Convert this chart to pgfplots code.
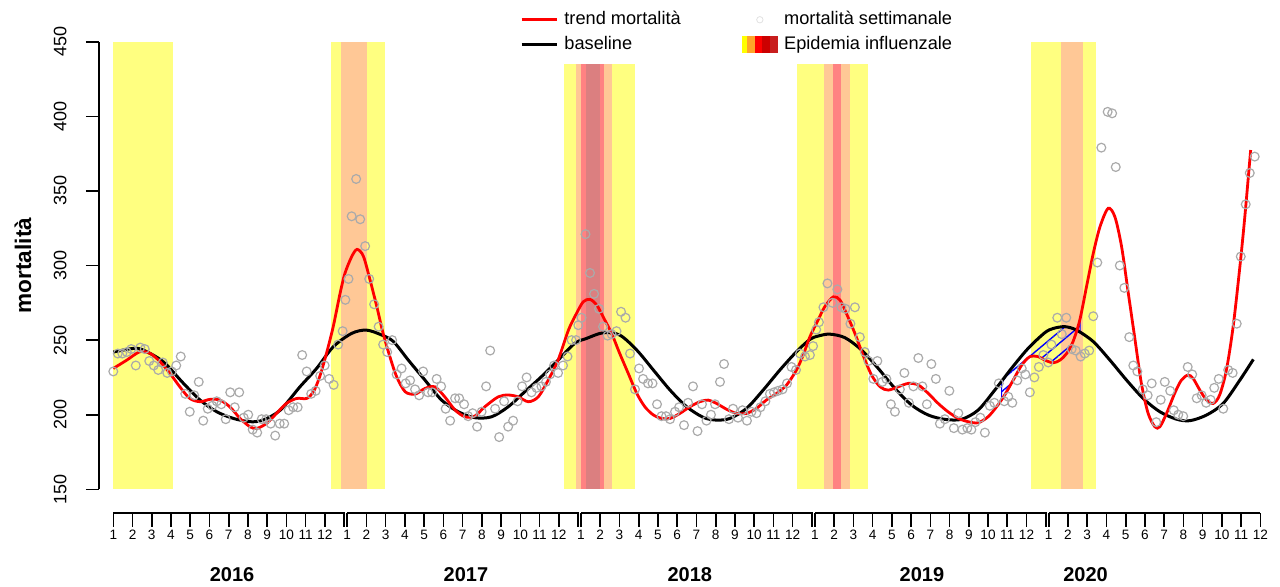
\documentclass[border=0pt]{standalone}
\usepackage{fontspec}
\setmainfont{Liberation Sans}
\usepackage{pgfplots}
\pgfplotsset{compat=1.18}
\usepackage{pgfplotstable}
\usetikzlibrary{patterns.meta}

\definecolor{yel}{RGB}{255,255,128}
\definecolor{peach}{RGB}{255,200,150}
\definecolor{pinkb}{RGB}{255,130,130}
\definecolor{dusky}{RGB}{219,127,128}
\definecolor{pts}{RGB}{170,170,170}
\definecolor{lg1}{RGB}{255,255,0}
\definecolor{lg2}{RGB}{255,165,40}
\definecolor{lg3}{RGB}{255,0,0}
\definecolor{lg4}{RGB}{204,0,0}
\definecolor{lg5}{RGB}{200,30,30}

% x = settimane dall'inizio del 2016, y = decessi
\pgfplotstableread{
w v
0 229
1 241
2 241
3 242
4 244
5 233
6 245
7 244
8 236
9 233
10 230
11 235
12 228
13 229
14 233
15 239
16 214
17 202
18 213
19 222
20 196
21 204
22 206
23 209
24 207
25 197
26 215
27 205
28 215
29 198
30 200
31 190
32 188
33 197
34 197
35 194
36 186
37 194
38 194
39 203
40 205
41 205
42 240
43 229
44 214
45 216
46 226
47 233
48 224
49 220
50 247
51 256
51.6 277
52.3 291
53.0 333
54.0 358
54.9 331
56.0 313
56.9 291
58.0 274
59.0 259
60.0 247
60.9 242
62.0 250
63.0 227
64.1 231
65.0 221
66.0 223
67.1 217
68.0 213
68.9 229
70.0 215
70.9 215
71.9 224
72.9 219
73.9 204
74.9 196
76.0 211
76.9 211
78.0 207
78.9 199
79.9 201
80.9 192
81.9 202
82.9 219
83.8 243
84.9 204
85.8 185
86.9 209
87.8 192
88.9 196
89.9 209
90.9 219
91.9 225
93.0 215
94.1 218
95.2 219
96.2 222
97.1 227
98.0 233
98.9 228
100.0 233
101.0 239
101.9 250
102.9 250
103.4 260
104.1 265
105.0 321
106.0 295
106.9 281
108.0 271
108.9 259
109.9 253
110.8 254
111.9 256
112.9 269
113.9 265
114.9 241
116.0 217
116.9 231
117.8 224
118.9 221
119.9 221
120.9 207
121.9 199
122.9 199
123.8 197
124.9 202
125.8 205
126.9 193
127.8 208
128.9 219
129.9 189
130.9 207
131.9 196
132.9 200
133.8 207
134.9 222
135.8 234
136.9 197
137.8 204
138.9 198
139.9 203
140.9 196
141.9 202
143.0 201
143.9 205
145.0 209
146.0 214
146.9 215
147.8 216
148.8 217
149.8 221
150.8 232
151.8 230
152.7 241
153.8 239
154.9 240
155.6 246
156.3 257
156.9 262
157.9 272
158.8 288
159.9 275
161.0 284
161.9 272
162.8 271
163.9 261
164.9 272
166.0 252
167.1 242
167.9 236
169.0 224
169.9 236
171.0 222
171.9 224
172.9 207
173.8 202
174.9 217
175.9 228
176.9 208
177.9 219
179.0 238
179.9 219
180.9 207
181.9 234
182.9 224
183.8 194
184.9 197
185.9 216
186.9 191
187.9 201
188.8 190
189.9 191
190.8 190
191.7 195
192.8 198
193.8 188
194.9 206
195.9 208
196.9 221
198.1 209
199.0 212
199.9 208
201.0 223
202.0 231
202.8 227
203.8 215
204.8 225
205.8 232
206.8 240
207.9 235
208.6 247
209.9 265
210.9 254
211.9 265
213.1 244
214.0 243
215.1 239
216.0 241
217.0 243
217.9 266
218.8 302
219.7 379
221.1 403
222.1 402
222.9 366
223.8 300
224.8 285
225.9 252
226.8 233
227.7 229
228.9 217
230.0 213
230.9 221
231.9 195
232.9 210
233.8 222
235.0 216
235.8 203
236.8 200
237.9 199
238.9 232
239.9 227
240.9 211
242.0 213
243.0 208
244.0 210
244.8 218
245.8 224
246.8 204
247.9 230
248.9 228
249.8 261
250.7 306
251.8 341
252.7 362
253.8 373
}\settimanale

\pgfplotstableread{
w v
0 231
3 236.6
5.9 242.2
8.2 241.1
10.4 235.5
12.6 227.7
14.8 218.7
17 210.9
19.3 208.7
21.5 210.3
23.7 209.8
25.9 205.3
28.2 197.5
30.4 191.9
31.9 190.8
34.1 194.2
36.3 200.9
38.5 207.6
40.8 210.9
43 210.9
44.5 215.4
45.9 225.5
47.4 241.1
48.9 259
50.4 281
51.5 294.7
53 305.9
54.2 310.8
55.6 306.3
57.1 290.2
58.6 272.4
60 254.5
61.5 238.9
63 225.5
64.9 215.4
67.1 213.8
69.3 217.6
71.5 218.7
73.7 212
76 203.1
78.2 198.6
80.4 199.1
82.6 205.3
85.6 212
87.8 213.2
90 212
92.3 208.7
94.5 212
96.7 223.2
98.9 236.6
101.2 256.7
103 267.9
104.5 275.7
106 277.3
107.5 273.5
108.9 265.7
110.8 254.5
112.6 241.1
114.5 227.7
116.4 214.3
118.2 205.3
120.1 199.8
121.9 197.5
123.8 197.5
126 200.9
128.2 205.3
130.4 208.7
132.3 209.8
134.1 207.6
136.4 203.6
138.6 200.9
140.8 200.9
143 204.2
145.2 209.8
147.5 214.3
149.7 219.9
151.9 229.9
153.4 240
154.9 252.3
156.7 263.4
158.2 272.4
160.1 279
161.6 276.8
163 267.9
164.9 254.5
166.7 240
168.6 226.6
170.5 218.7
172.3 216.5
174.5 218.7
176.8 221
179 219.9
181.2 214.3
183.4 207.6
185.6 202
187.9 197.5
190.1 195.3
192.3 194.6
194.5 198.6
196.4 205.3
198.2 213.2
200.1 223.2
202 233.3
203.8 238.9
205.7 238.9
207.1 236.6
209 234.8
210.5 236.6
212 241.1
213.4 249
214.9 263.4
216.4 285.8
217.9 308.1
219.4 326
221.2 338.3
222.7 332.7
224.2 312.6
225.7 281.3
227.2 250
228.6 221
230.1 200.9
231.6 191.9
232.7 191.9
234.2 200.9
236 214.3
237.5 223.2
239 226.6
240.1 224.3
241.6 216.5
243.1 209.8
244.6 207.6
246 213.2
247.5 229.9
249 259
250.5 299.2
251.6 332.7
252.9 377.4
}\trend

\pgfplotstableread{
w v
0 242
4.4 244.4
6.7 243.3
11.1 235.5
15.6 221
19.3 209.8
23 202
26.7 197.5
30.4 195.3
33.3 196.4
37.1 203
41.5 218.7
45.2 231
48.9 245.5
53 254.5
56.3 256.7
59.7 253.4
62.3 249
65.6 236.6
69.3 223.2
73 209.8
76.7 202
80.4 198
84.1 198.6
87.8 205.3
91.5 215.4
95.2 225.5
98.9 236.6
102.6 247.8
105.2 251.1
108.9 254.9
112.6 253.4
116.4 243.3
120.1 229.9
123.8 216.5
127.5 205.3
131.2 198.2
134.1 196.4
137.1 197.5
140.8 204.2
144.5 216.5
148.2 229.9
151.9 242.2
154.9 250.5
156.7 252.7
159.3 254
162.7 251.6
166.4 243.3
170.1 231
173.8 217.6
177.5 206.5
181.2 199.8
184.9 196.9
188.6 196.9
192.3 203.1
196 216.5
199.7 231
203.4 244.4
207.1 254.9
209 257.8
211.6 259
214.2 256.7
217.9 249
221.6 236.6
225.3 223.2
229 210.9
232.7 202
236.4 197
239.4 196
243.1 199.8
246.8 207.6
250.5 223.2
253.5 237.1
}\baseline

\begin{document}
\begin{tikzpicture}
\begin{axis}[
  scale only axis, width=585.5pt, height=223.8pt,
  xmin=-3.18, xmax=257.2, ymin=150, ymax=450,
  clip=false,
  axis x line=none, axis y line*=left,
  y axis line style={line width=0.8pt},
  xtick=\empty,
  ytick={150,200,...,450},
  tick align=outside, major tick length=6.5pt,
  every tick/.style={black, line width=0.8pt},
  yticklabel style={rotate=90, anchor=south, inner xsep=0pt, inner ysep=9.5pt, font=\fontsize{9}{10}\selectfont},
  /pgf/number format/assume math mode=true,
  ylabel={\textbf{mortalità}},
  ylabel style={at={(axis description cs:-0.0649,0.5)}, anchor=center, font=\fontsize{11.3}{13}\selectfont},
  legend columns=2, legend cell align=left,
  legend style={draw=none, fill=none, inner sep=0pt,
    at={(axis description cs:0.3592,1.0772)}, anchor=north west,
    font=\fontsize{9.1}{10}\selectfont, nodes={inner xsep=3.2pt},
    /tikz/every even column/.append style={column sep=27.4pt}},
]
\coordinate (bl) at (rel axis cs:0,0);
\coordinate (o) at (axis cs:0,134.1);

% periodi di epidemia influenzale
\addplot[fill=yel, draw=none, forget plot] coordinates {(0,150) (13.3,150) (13.3,450) (0,450)};
\addplot[fill=yel, draw=none, forget plot] coordinates {(48.4,150) (60.4,150) (60.4,450) (48.4,450)};
\addplot[fill=peach, draw=none, forget plot] coordinates {(50.6,150) (56.5,150) (56.5,450) (50.6,450)};
\addplot[fill=yel, draw=none, forget plot] coordinates {(100.2,150) (115.9,150) (115.9,435) (100.2,435)};
\addplot[fill=peach, draw=none, forget plot] coordinates {(102.9,150) (110.9,150) (110.9,435) (102.9,435)};
\addplot[fill=pinkb, draw=none, forget plot] coordinates {(104,150) (109.1,150) (109.1,435) (104,435)};
\addplot[fill=dusky, draw=none, forget plot] coordinates {(105.2,150) (108.2,150) (108.2,435) (105.2,435)};
\addplot[fill=yel, draw=none, forget plot] coordinates {(152,150) (167.8,150) (167.8,435) (152,435)};
\addplot[fill=peach, draw=none, forget plot] coordinates {(158,150) (163.9,150) (163.9,435) (158,435)};
\addplot[fill=pinkb, draw=none, forget plot] coordinates {(160.1,150) (161.9,150) (161.9,435) (160.1,435)};
\addplot[fill=yel, draw=none, forget plot] coordinates {(204,150) (218.6,150) (218.6,450) (204,450)};
\addplot[fill=peach, draw=none, forget plot] coordinates {(210.7,150) (215.6,150) (215.6,450) (210.7,450)};

% area tratteggiata tra trend e baseline
\addplot[draw=blue, line width=0.5pt, forget plot,
  pattern={Lines[angle=40,distance=4.5pt,line width=0.7pt]}, pattern color=blue]
  coordinates {(197.5,210.5) (198.2,213.2) (200.1,223.2) (202,233.3) (203.8,238.9)
    (205.7,238.9) (207.1,236.6) (209,234.8) (210.5,236.6) (212,241.1) (213.4,249) (215,264)
    (215,255.5) (214.2,256.7) (211.6,259) (209,257.8) (207.1,254.9) (203.4,244.4)
    (199.7,231) (197.5,221)} -- cycle;

\addplot[black, line width=1.5pt, smooth, forget plot] table[x=w, y=v] {\baseline};
\addplot[red, line width=1.4pt, smooth, forget plot] table[x=w, y=v] {\trend};
\addplot[only marks, mark=o, mark size=2.2pt, mark options={pts, line width=0.6pt}, forget plot]
  table[x=w, y=v] {\settimanale};

\node[font=\bfseries\fontsize{10}{12}\selectfont] at (axis cs:26.4,92.6) {2016};
\node[font=\bfseries\fontsize{10}{12}\selectfont] at (axis cs:78.4,92.6) {2017};
\node[font=\bfseries\fontsize{10}{12}\selectfont] at (axis cs:128.2,92.6) {2018};
\node[font=\bfseries\fontsize{10}{12}\selectfont] at (axis cs:179.8,92.6) {2019};
\node[font=\bfseries\fontsize{10}{12}\selectfont] at (axis cs:216.2,92.6) {2020};

% legenda
\addlegendimage{legend image code/.code={\draw[red, line width=1.4pt] (0pt,0pt) -- (17.5pt,0pt);}}
\addlegendentry{trend mortalità}
\addlegendimage{legend image code/.code={\path[draw=none, fill=none] (0pt,-4pt) rectangle (17.5pt,4pt);
  \draw[pts!35, line width=0.4pt, fill=none] (8.75pt,0pt) circle (1.6pt);}}
\addlegendentry{mortalità settimanale}
\addlegendimage{legend image code/.code={\draw[black, line width=1.5pt] (0pt,0pt) -- (17.5pt,0pt);}}
\addlegendentry{baseline}
\addlegendimage{legend image code/.code={
  \fill[lg1] (0pt,-4pt) rectangle (2.67pt,4pt);
  \fill[lg2] (2.67pt,-4pt) rectangle (6.67pt,4pt);
  \fill[lg3] (6.67pt,-4pt) rectangle (10pt,4pt);
  \fill[lg4] (10pt,-4pt) rectangle (14.17pt,4pt);
  \fill[lg5] (14.17pt,-4pt) rectangle (17.5pt,4pt);}}
\addlegendentry{Epidemia influenzale}
\end{axis}

% asse dei mesi, un tratto per anno
\begin{scope}[shift={(o)}, x=2.24864pt, y=1pt, line width=0.8pt]
  \foreach \yr in {0,1,2,3} {
    \draw (52*\yr,0) -- (52*\yr+51.33,0) -- ++(0,-7pt);
  }
  \draw (208,0) -- (255.06,0);
  \foreach \yr in {0,...,4} {
    \foreach \m in {1,...,12} {
      \draw (52*\yr+4.278*\m-4.278,0) -- ++(0,-7pt)
        node[below, inner sep=1pt, font=\fontsize{6.8}{7}\selectfont] {\m};
    }
  }
\end{scope}

\pgfresetboundingbox
\path (bl) ++(-49.5pt,-48.35pt) rectangle ++(640pt,293pt);
\end{tikzpicture}
\end{document}
